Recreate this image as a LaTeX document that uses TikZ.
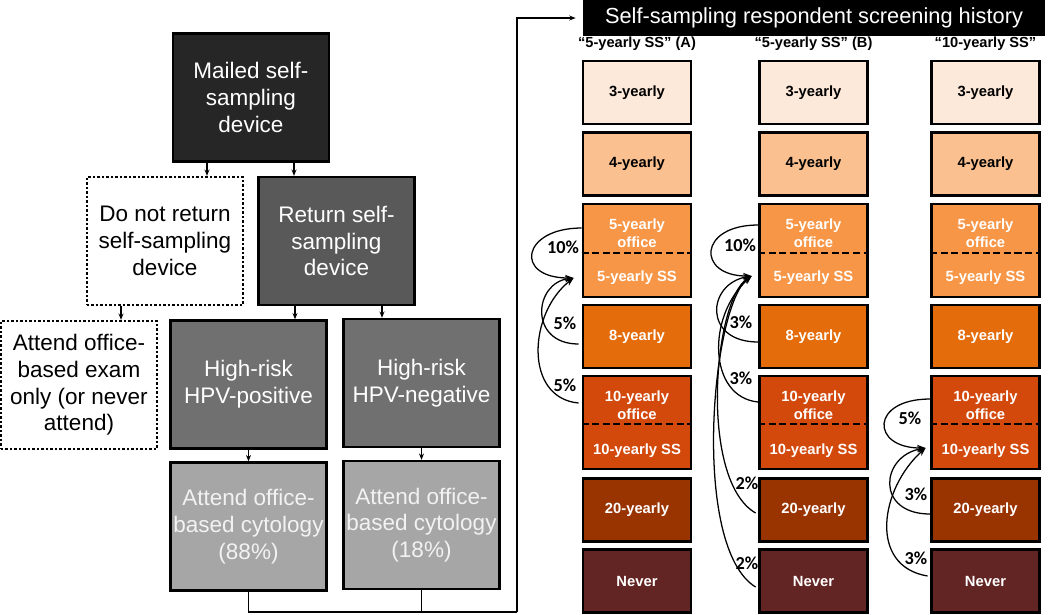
\documentclass[tikz,border=0pt]{standalone}
\usepackage{fontspec}
\setmainfont{Liberation Sans}
\newfontfamily\pctfont{Carlito}
\usetikzlibrary{arrows.meta,calc}

\definecolor{boxmail}{HTML}{262626}
\definecolor{boxret}{HTML}{595959}
\definecolor{boxhpv}{HTML}{707070}
\definecolor{boxcyt}{HTML}{A6A6A6}
\definecolor{yr3}{HTML}{FDE9D9}
\definecolor{yr4}{HTML}{FAC090}
\definecolor{yr5}{HTML}{F79646}
\definecolor{yr8}{HTML}{E46C0A}
\definecolor{yr10}{HTML}{D3480B}
\definecolor{yr20}{HTML}{993300}
\definecolor{yrnever}{HTML}{632523}

\begin{document}
\begin{tikzpicture}[x=0.025cm, y=-0.025cm,
  flow/.style={draw=black, line width=1.6pt, minimum width=3.9cm, minimum height=3.2cm, align=center, inner sep=1pt, font=\fontsize{16}{19}\selectfont},
  dotbox/.style={flow, fill=white, dash pattern=on 1.6pt off 1.6pt},
  yrbox/.style={draw=black, line width=2pt, minimum width=2.7cm, minimum height=1.575cm, align=center, text=white, font=\bfseries\fontsize{10.5}{12.8}\selectfont},
  dblbox/.style={yrbox, minimum height=2.325cm},
  yrtext/.style={align=center, inner sep=0pt, text=white, font=\bfseries\fontsize{10.5}{12.8}\selectfont},
  head/.style={inner sep=0pt, font=\bfseries\fontsize{10.4}{12}\selectfont},
  pct/.style={inner sep=0pt, font=\pctfont\bfseries\fontsize{13}{15}\selectfont},
  arr/.style={-{Stealth[length=4.5pt,width=3.5pt]}, line width=0.8pt},
  link/.style={line width=1pt},
  curv/.style={-{Stealth[length=6pt,width=4.5pt]}, line width=0.9pt},
  divider/.style={line width=1.5pt, dash pattern=on 5pt off 2.5pt}]
  \useasboundingbox (0,0) rectangle (1050,614);

  %% left: mailed device flow
  \node[flow, fill=boxmail, text=white] (mailed) at (251,97.5) {Mailed self-\\sampling\\device};
  \node[dotbox] (noreturn) at (165,241) {Do not return\\self-sampling\\device};
  \node[flow, fill=boxret, text=white] (return) at (336.5,241) {Return self-\\sampling\\device};
  \node[dotbox] (officeonly) at (79,385) {Attend office-\\based exam\\only (or never\\attend)};
  \node[flow, fill=boxhpv, text=white] (hpvpos) at (248.5,384.5) {High-risk\\HPV-positive};
  \node[flow, fill=boxhpv, text=white] (hpvneg) at (421.5,383) {High-risk\\HPV-negative};
  \node[flow, fill=boxcyt, text=white!95!black] (cytopos) at (248.5,526.5) {Attend office-\\based cytology\\(88\%)};
  \node[flow, fill=boxcyt, text=white!95!black] (cytoneg) at (421.5,525) {Attend office-\\based cytology\\(18\%)};

  \coordinate (m1) at ($(mailed.south)+(-44,0)$);
  \coordinate (m2) at ($(mailed.south)+(43,0)$);
  \coordinate (n1) at ($(noreturn.south)+(-44,0)$);
  \coordinate (r1) at ($(return.south)+(-41.5,0)$);
  \coordinate (r2) at ($(return.south)+(45.5,0)$);
  \draw[arr] (m1) -- (m1 |- noreturn.north);
  \draw[arr] (m2) -- (m2 |- return.north);
  \draw[arr] (n1) -- (n1 |- officeonly.north);
  \draw[arr] (r1) -- (r1 |- hpvpos.north);
  \draw[arr] (r2) -- (r2 |- hpvneg.north);
  \draw[arr] (hpvpos.south) -- (cytopos.north);
  \draw[arr] (hpvneg.south) -- (cytoneg.north);

  %% right: screening history
  \node[fill=black, text=white, minimum width=11.55cm, minimum height=0.9cm, inner sep=0pt, font=\fontsize{15.5}{18}\selectfont] (title) at (814,18) {Self-sampling respondent screening history};

  \coordinate (bend) at (517,612);
  \draw[link] (cytopos.south) |- (bend);
  \draw[link] (cytoneg.south) -- (cytoneg.south |- bend);
  \draw[arr, shorten >=5pt] (bend) -- (bend |- title.west) -- (title.west);

  \foreach \c/\x/\hd in {A/637/{“5-yearly SS” (A)}, B/813.5/{“5-yearly SS” (B)}, C/985.5/{“10-yearly SS”}} {
    \node[head] (hd-\c) at (\x,44) {\hd};
    \node[yrbox, fill=yr3, text=black] (\c-3) at (\x,92.5) {3-yearly};
    \node[yrbox, fill=yr4, text=black] (\c-4) at (\x,164) {4-yearly};
    \node[dblbox, fill=yr5] (\c-5) at (\x,250.5) {};
    \node[yrbox, fill=yr8] (\c-8) at (\x,336.5) {8-yearly};
    \node[dblbox, fill=yr10] (\c-10) at (\x,422.5) {};
    \node[yrbox, fill=yr20] (\c-20) at (\x,510) {20-yearly};
    \node[yrbox, fill=yrnever] (\c-never) at (\x,581) {Never};
    \node[yrtext] (\c-5o) at ($(\c-5.center)+(0,-17.5)$) {5-yearly\\office};
    \node[yrtext] (\c-5s) at ($(\c-5.center)+(0,27.5)$) {5-yearly SS};
    \node[yrtext] (\c-10o) at ($(\c-10.center)+(0,-17)$) {10-yearly\\office};
    \node[yrtext] (\c-10s) at ($(\c-10.center)+(0,28.5)$) {10-yearly SS};
    \draw[divider] ($(\c-5.west)+(0,2.5)$) -- ($(\c-5.east)+(0,2.5)$);
    \draw[divider] ($(\c-10.west)+(0,1.5)$) -- ($(\c-10.east)+(0,1.5)$);
  }

  %% transitions into 5-yearly SS (A)
  \coordinate (tipA) at ($(A-5.west)+(-8,27.5)$);
  \draw[curv] ($(A-5.west)+(0,-22.5)$) .. controls +(-60,0) and +(-60,0) .. (tipA);
  \draw[curv] ($(A-8.west)+(-3,7.5)$) .. controls +(-50,0) and +(-40,5) .. (tipA);
  \draw[curv] ($(A-10.west)+(-3,-19.5)$) .. controls +(-55,-5) and +(-45,35) .. (tipA);
  \node[pct] (pA1) at (563,247) {10\%};
  \node[pct] (pA2) at (565,323) {5\%};
  \node[pct] (pA3) at (565,385) {5\%};

  %% transitions into 5-yearly SS (B)
  \coordinate (tipB) at ($(B-5.west)+(-6.5,25.5)$);
  \draw[curv] ($(B-5.west)+(0,-25.5)$) .. controls +(-60,0) and +(-55,0) .. (tipB);
  \draw[curv] ($(B-8.west)+(0,5.5)$) .. controls +(-55,0) and +(-45,8) .. (tipB);
  \draw[curv] ($(B-10.west)+(0,-20.5)$) .. controls +(-50,-5) and +(-45,40) .. (tipB);
  \draw[curv] ($(B-20.west)+(-2.5,3)$) .. controls +(-57,-33) and +(-38,24) .. (tipB);
  \draw[curv] ($(B-never.west)+(-2.5,6)$) .. controls +(-65,-40) and +(-40,30) .. (tipB);
  \node[pct] (pB1) at (740,245) {10\%};
  \node[pct] (pB2) at (741,322) {3\%};
  \node[pct] (pB3) at (741,378) {3\%};
  \node[pct] (pB4) at (747,483) {2\%};
  \node[pct] (pB5) at (747,563) {2\%};

  %% transitions into 10-yearly SS
  \coordinate (tipC) at ($(C-10.west)+(-4.5,25.5)$);
  \draw[curv] ($(C-10.west)+(0,-23.5)$) .. controls +(-60,0) and +(-55,0) .. (tipC);
  \draw[curv] ($(C-20.west)+(0,4)$) .. controls +(-55,0) and +(-45,8) .. (tipC);
  \draw[curv] ($(C-never.west)+(-2.5,-5)$) .. controls +(-60,-10) and +(-45,40) .. (tipC);
  \node[pct] (pC1) at (910,418) {5\%};
  \node[pct] (pC2) at (916,494) {3\%};
  \node[pct] (pC3) at (916,558) {3\%};
\end{tikzpicture}
\end{document}
